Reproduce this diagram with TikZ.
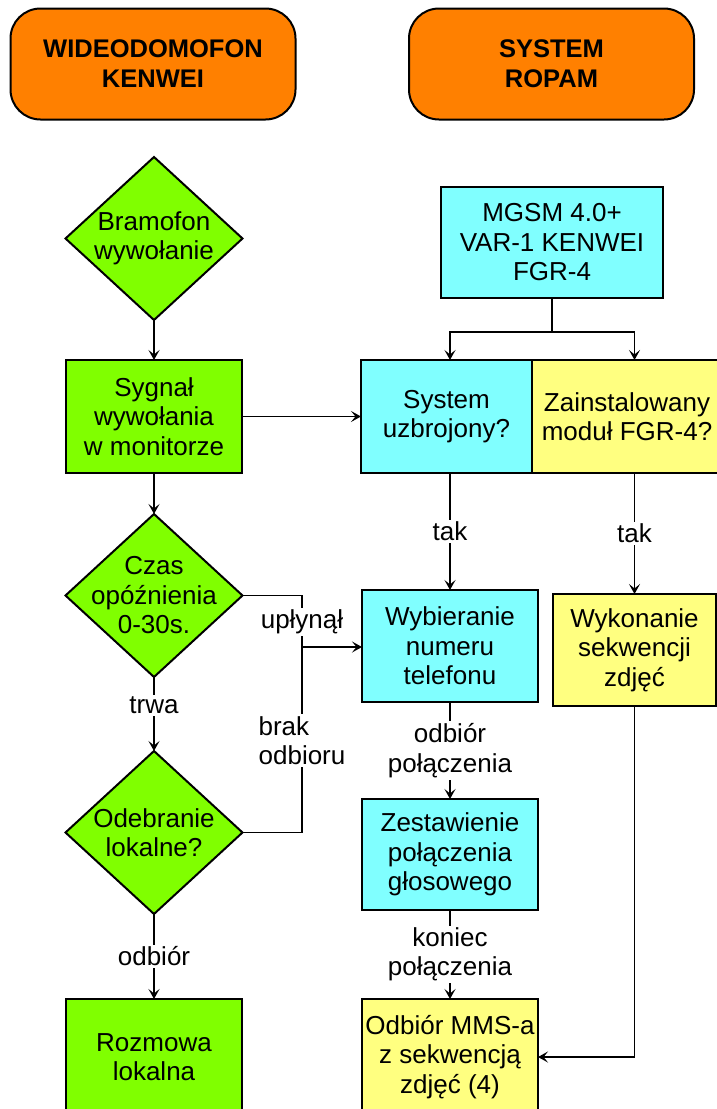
\documentclass[tikz,border=0pt]{standalone}
\usepackage{fontspec}
\setmainfont{Liberation Sans}
\usetikzlibrary{shapes.geometric,arrows.meta,positioning}

\definecolor{orangeH}{RGB}{255,128,0}
\definecolor{greenK}{RGB}{128,255,0}
\definecolor{cyanR}{RGB}{128,255,255}
\definecolor{yellowF}{RGB}{255,255,128}
\newcommand\bodyfont{\fontsize{26}{29.5}\selectfont}

\begin{document}
\begin{tikzpicture}[x=1pt, y=-1pt,
    % Node styles
    header/.style={rectangle, rounded corners=30pt, draw=black, line width=2pt,
                   fill=orangeH, minimum width=285pt, minimum height=111pt,
                   align=center, outer sep=0pt, font=\fontsize{25.5}{30}\selectfont\bfseries},
    decision/.style={diamond, draw=black, line width=2pt, fill=greenK,
                     minimum width=177pt, minimum height=163pt, inner sep=-20pt,
                     align=center, outer sep=0pt, font=\bodyfont},
    kenwei/.style={rectangle, draw=black, line width=2pt, fill=greenK,
                   minimum width=176pt, minimum height=113pt, align=center,
                   outer sep=0pt, font=\bodyfont},
    ropam/.style={rectangle, draw=black, line width=2pt, fill=cyanR,
                  minimum width=176pt, minimum height=112pt, align=center,
                  outer sep=0pt, font=\bodyfont},
    photo/.style={rectangle, draw=black, line width=2pt, fill=yellowF,
                  minimum width=176pt, minimum height=112pt, align=center,
                  outer sep=0pt, font=\bodyfont},
    line/.style={line width=1.4pt, black},
    arrow/.style={line width=1.4pt, black, -{Stealth[length=10pt,width=11pt,inset=4.5pt]}},
    lbl/.style={fill=white, inner sep=2pt, align=center, font=\bodyfont}
]
\clip (0,0) rectangle (717,1109);
\fill[white] (0,0) rectangle (717,1109);

% Headers
\node[header] (kenweihead) at (153,64) {WIDEODOMOFON\\KENWEI};
\node[header] (ropamhead) at (551.5,64) {SYSTEM\\ROPAM};

% Left column: intercom
\node[decision] (bramofon) at (154,238.5) {Bramofon\\wywołanie};
\node[kenwei, below=40pt of bramofon] (sygnal) {Sygnał\\wywołania\\w monitorze};
\node[decision, below=41pt of sygnal] (czas) {Czas\\opóźnienia\\0-30s.};
\node[decision, below=74pt of czas] (odebranie) {Odebranie\\lokalne?};
\node[kenwei, minimum height=116pt, below=85pt of odebranie] (rozmowa) {Rozmowa\\lokalna};

% Right column: alarm system
\node[ropam, minimum width=222pt, minimum height=111pt] (mgsm) at (552,242.5) {MGSM 4.0+\\VAR-1 KENWEI\\FGR-4};
\node[ropam, minimum width=171pt, minimum height=113pt] (uzbrojony) at (446.5,416.5) {System\\uzbrojony?};
\node[photo, minimum width=190pt, minimum height=113pt, right=0pt of uzbrojony] (fgr) {Zainstalowany\\moduł FGR-4?};
\node[ropam] (wybieranie) at (450,646) {Wybieranie\\numeru\\telefonu};
\node[photo, minimum width=163pt] (sekwencja) at (634.5,650) {Wykonanie\\sekwencji\\zdjęć};
\node[ropam, minimum height=111pt, below=97pt of wybieranie] (zestawienie) {Zestawienie\\połączenia\\głosowego};
\node[photo, minimum height=116pt, below=89pt of zestawienie] (mms) {Odbiór MMS-a\\z sekwencją\\zdjęć (4)};

% Left flow
\draw[arrow] (bramofon) -- (sygnal);
\draw[arrow] (sygnal) -- (czas);
\draw[arrow] (czas) -- node[lbl, pos=0.38] {trwa} (odebranie);
\draw[arrow] (odebranie) -- node[lbl] {odbiór} (rozmowa);

% Timeout or no answer -> dialling
\coordinate (merge) at (302,647);
\draw[line] (czas.east) -| (merge);
\draw[line] (odebranie.east) -| (merge);
\draw[arrow] (merge) -- (wybieranie.west |- merge);
\node[lbl] at (302,622) {upłynął};
\node[lbl, align=left] at (302,740.5) {brak\\odbioru};

% Call signal to system
\draw[arrow] (sygnal) -- (uzbrojony);

% Module split
\draw[line] (mgsm.south) -- ++(0,34) coordinate (split);
\draw[arrow] (split) -| (wybieranie.north |- uzbrojony.north);
\draw[arrow] (split) -| (sekwencja.north |- fgr.north);

% Right flow
\draw[arrow] (wybieranie.north |- uzbrojony.south) -- node[lbl] {tak} (wybieranie);
\draw[arrow] (sekwencja.north |- fgr.south) -- node[lbl] {tak} (sekwencja);
\draw[arrow] (wybieranie) -- node[lbl] {odbiór\\połączenia} (zestawienie);
\draw[arrow] (zestawienie) -- node[lbl] {koniec\\połączenia} (mms);
\draw[arrow] (sekwencja.south) |- (mms.east);

\end{tikzpicture}
\end{document}
